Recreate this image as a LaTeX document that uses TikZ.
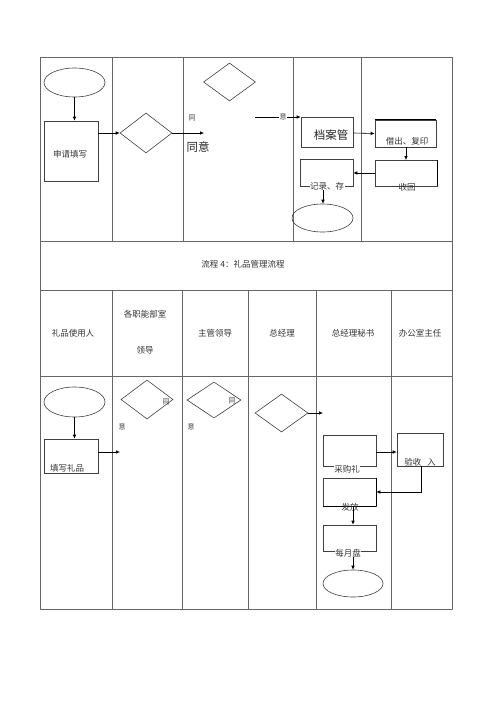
\documentclass[tikz,border=0pt]{standalone}
\usepackage{fontspec}
\setmainfont{Noto Sans CJK SC}
\usetikzlibrary{arrows.meta,shapes.geometric}
\begin{document}
\begin{tikzpicture}[x=1pt,y=-1pt,
  grid/.style={draw=black!60,line width=0.45pt,dash pattern=on 0.5pt off 0.3pt},
  shp/.style={draw=black!75,line width=0.6pt},
  box/.style={shp,rectangle,inner sep=0pt},
  oval/.style={shp,ellipse,inner sep=0pt},
  dia/.style={shp,diamond,inner sep=0pt,aspect=1.35},
  arr/.style={draw=black,line width=0.6pt,-{Latex[length=4pt,width=3.5pt]}},
  lab/.style={inner sep=0pt,font=\fontsize{8.5pt}{9pt}\selectfont,text=black!80},
  big/.style={inner sep=0pt,font=\fontsize{11.5pt}{12pt}\selectfont,text=black!85},
  sml/.style={inner sep=0pt,font=\fontsize{7pt}{8pt}\selectfont,text=black!75}]
\useasboundingbox[fill=white] (0,0) rectangle (500,707);
% ---------- grid ----------
\draw[grid] (40,57) rectangle (452,609);
\draw[grid] (40,241) -- (452,241);
\draw[grid] (40,290) -- (452,290);
\draw[grid] (40,376) -- (452,376);
\foreach \x in {112,183,293,361} \draw[grid] (\x,57) -- (\x,241);
\foreach \x in {112,182,248,316,391} \draw[grid] (\x,290) -- (\x,609);
% ---------- top section ----------
\node[oval,minimum width=61pt,minimum height=29pt] (e1) at (74.5,82.5) {};
\node[box,minimum width=54pt,minimum height=60pt] (r1) at (71,151) {};
\node[lab] (t1) at (70,154) {申请填写};
\draw[arr] (e1.south) -- (r1.north -| e1.south);
\node[dia,minimum width=52pt,minimum height=40pt] (d1) at (146,133) {};
\draw[arr] (r1.east |- d1.west) -- (d1.west);
\coordinate (c1) at (204,133);
\draw[arr] (d1.east) -- (c1);
\node[sml] (ty1) at (192,118) {同};
\node[big] (ty2) at (198,147) {同意};
\node[dia,minimum width=52pt,minimum height=38pt] (d2) at (229.5,82) {};
\node[box,minimum width=52pt,minimum height=30pt] (r2) at (327,132) {};
\node[big] (t2) at (331,135) {档案管};
\coordinate (c2) at (255,117);
\draw[arr] (c2) -- (r2.north west |- c2);
\node[sml,fill=white,inner sep=0.5pt] (yi1) at (283,117) {意};
\node[box,minimum width=61pt,minimum height=27pt] (r3) at (405.5,133.5) {};
\draw[line width=1.1pt] (r3.north west) -- (r3.north east);
\node[lab] (t3) at (407,141) {借出、复印};
\draw[arr] (r2.east |- 0,133) -- (r3.west);
\node[box,minimum width=62pt,minimum height=26pt] (r4) at (406,173) {};
\draw[line width=1pt] (r4.north east) -- (r4.south east);
\node[lab] (t4) at (407,187) {收回};
\draw[arr] (406,147) -- (406,160);
\node[box,minimum width=53pt,minimum height=27pt] (r5) at (326.5,172.5) {};
\draw[arr] (r4.west) -- (r5.east |- r4.west);
\node[oval,minimum width=61pt,minimum height=28pt] (e2) at (322.5,218) {};
\draw[arr] (323,186) -- (e2.north -| 323,0);
\node[lab,fill=white,inner sep=0.5pt] (t5) at (327,186) {记录、存};
% ---------- middle ----------
\node[lab] (title) at (243,264) {流程 4：礼品管理流程};
\node[lab] (h1) at (73,333) {礼品使用人};
\node[lab] (h2a) at (145,314) {各职能部室};
\node[lab] (h2b) at (145,350) {领导};
\node[lab] (h3) at (215,333) {主管领导};
\node[lab] (h4) at (282,333) {总经理};
\node[lab] (h5) at (353,333) {总经理秘书};
\node[lab] (h6) at (420,333) {办公室主任};
% ---------- bottom section ----------
\node[oval,minimum width=61pt,minimum height=30pt] (e3) at (74.5,402) {};
\node[box,minimum width=54pt,minimum height=34pt] (r6) at (71,456) {};
\node[lab] (t6) at (67,468) {填写礼品};
\draw[arr] (e3.south) -- (r6.north -| e3.south);
\coordinate (c3) at (120,452);
\draw[arr] (r6.east |- c3) -- (c3);
\node[dia,minimum width=52pt,minimum height=39pt] (d3) at (147,399.5) {};
\node[sml] (ty3) at (166,402) {同};
\node[sml] (yi3) at (122,427) {意};
\node[dia,minimum width=54pt,minimum height=36pt] (d4) at (214,400) {};
\node[sml] (ty4) at (232,401) {同};
\node[sml] (yi4) at (191,427) {意};
\node[dia,minimum width=53pt,minimum height=38pt] (d5) at (281.5,413) {};
\coordinate (c4) at (323,413);
\draw[arr] (d5.east) -- (c4);
\node[box,minimum width=53pt,minimum height=31pt] (r7) at (349.5,450.5) {};
\node[lab,fill=white,inner sep=0.5pt] (t7) at (347,469) {采购礼};
\node[box,minimum width=46pt,minimum height=33pt] (r8) at (420,449.5) {};
\node[lab] (t8) at (420,462) {验收\hspace{6pt}入};
\draw[arr] (r7.east |- 0,452) -- (r8.west |- 0,452);
\node[box,minimum width=53pt,minimum height=28pt] (r9) at (349.5,492) {};
\draw[line width=1pt] (r9.north east) -- (r9.south east);
\draw[line width=1pt] (r9.south west) -- (r9.south east);
\node[lab] (t9) at (350,507) {发放};
\draw[arr] (421,466) |- (r9.east);
\node[box,minimum width=53pt,minimum height=26pt] (r10) at (349.5,538) {};
\draw[arr] (353,506) -- (r10.north -| 353,0);
\node[oval,minimum width=60pt,minimum height=27pt] (e4) at (353,583.5) {};
\draw[arr] (353,551) -- (e4.north);
\node[lab,fill=white,inner sep=0.5pt] (t10) at (348,553) {每月盘};
\end{tikzpicture}
\end{document}
